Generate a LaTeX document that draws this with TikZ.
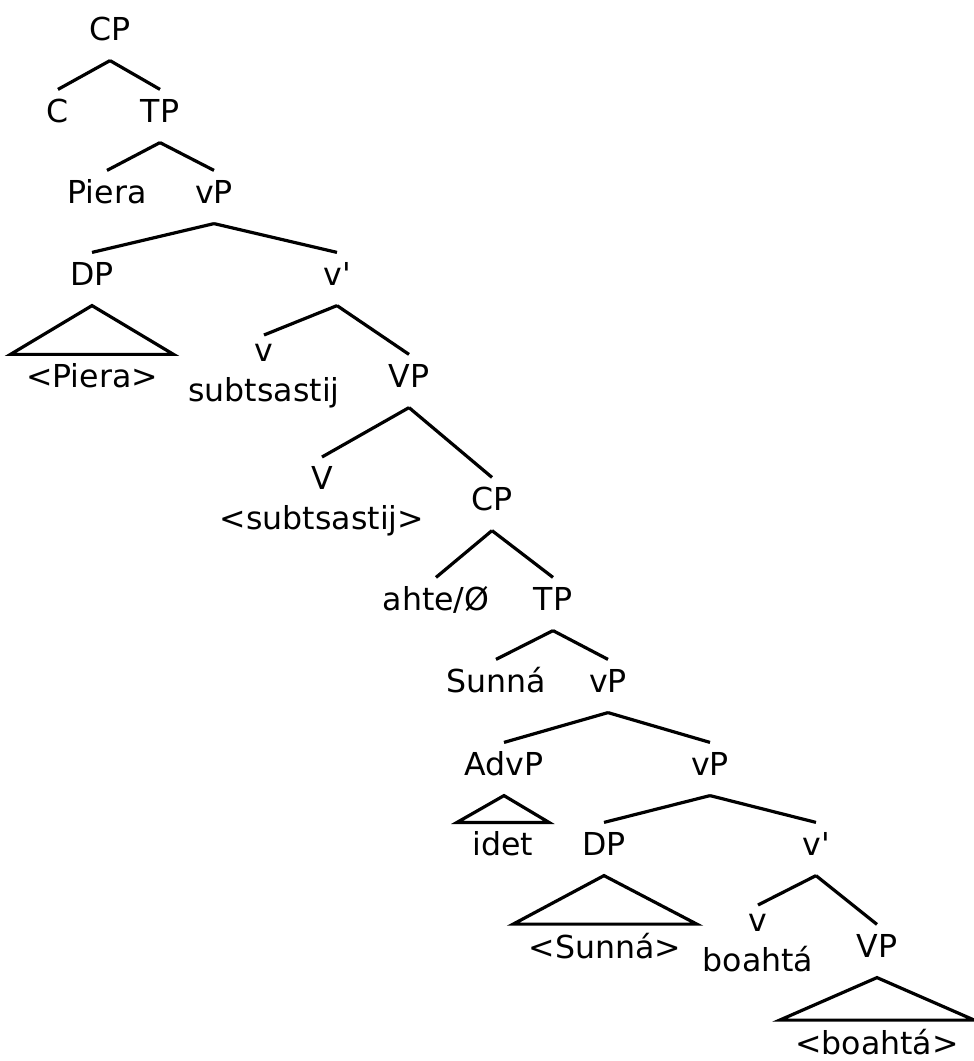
\documentclass[tikz,border=0pt]{standalone}
\usepackage{fontspec}
\setmainfont{DejaVu Sans}
\begin{document}
\begin{tikzpicture}[x=0.5pt, y=-0.5pt, line width=1.6pt,
        font=\fontsize{15.8pt}{20pt}\selectfont,
        cat/.style={anchor=base, text height=11.5pt, text depth=5.5pt, inner xsep=2pt, inner ysep=4pt},
        roof/.style={anchor=base, inner xsep=7pt, inner ysep=3.5pt},
        pair/.style={anchor=north, align=center, inner ysep=4pt}]
    \useasboundingbox (0,0) rectangle (974,1061);
    \node[cat] (cpA) at (110,40) {CP};
    \node[cat] (cA) at (58,122) {C};
    \node[cat] (tpA) at (160,122) {TP};
    \node[cat] (piera) at (107,203) {Piera};
    \node[cat] (vpA) at (214,203) {vP};
    \node[cat] (dpA) at (92,285) {DP};
    \node[roof] (pieraT) at (92,387) {<Piera>};
    \node[cat] (vbarA) at (337,285) {v\textquotesingle};
    \node[pair] (vA) at (264,335) {v\\subtsastij};
    \node[cat] (VPA) at (409,387) {VP};
    \node[pair] (VA) at (322,457) {V\\<subtsastij>};
    \node[cat] (cpB) at (492,510) {CP};
    \node[cat] (ahte) at (436,610) {ahte/Ø};
    \node[cat] (tpB) at (553,610) {TP};
    \node[cat] (sunna) at (496,692) {Sunná};
    \node[cat] (vpB) at (608,692) {vP};
    \node[cat] (advp) at (504,775) {AdvP};
    \node[roof] (idet) at (503,855) {idet};
    \node[cat] (vpC) at (710,775) {vP};
    \node[cat] (dpB) at (604,855) {DP};
    \node[roof] (sunnaT) at (605,958) {<Sunná>};
    \node[cat] (vbarB) at (816,855) {v\textquotesingle};
    \node[pair] (vB) at (758,905) {v\\boahtá};
    \node[cat] (VPB) at (877,957) {VP};
    \node[roof] (boahtaT) at (877,1054) {<boahtá>};
    \draw (cpA.south) -- (cA.north);
    \draw (cpA.south) -- (tpA.north);
    \draw (tpA.south) -- (piera.north);
    \draw (tpA.south) -- (vpA.north);
    \draw (vpA.south) -- (dpA.north);
    \draw (vpA.south) -- (vbarA.north);
    \draw (dpA.south) -- (pieraT.north west) -- (pieraT.north east) -- cycle;
    \draw (vbarA.south) -- (vA.north);
    \draw (vbarA.south) -- (VPA.north);
    \draw (VPA.south) -- (VA.north);
    \draw (VPA.south) -- (cpB.north);
    \draw (cpB.south) -- (ahte.north);
    \draw (cpB.south) -- (tpB.north);
    \draw (tpB.south) -- (sunna.north);
    \draw (tpB.south) -- (vpB.north);
    \draw (vpB.south) -- (advp.north);
    \draw (vpB.south) -- (vpC.north);
    \draw (advp.south) -- (idet.north west) -- (idet.north east) -- cycle;
    \draw (vpC.south) -- (dpB.north);
    \draw (vpC.south) -- (vbarB.north);
    \draw (dpB.south) -- (sunnaT.north west) -- (sunnaT.north east) -- cycle;
    \draw (vbarB.south) -- (vB.north);
    \draw (vbarB.south) -- (VPB.north);
    \draw (VPB.south) -- (boahtaT.north west) -- (boahtaT.north east) -- cycle;
\end{tikzpicture}
\end{document}
